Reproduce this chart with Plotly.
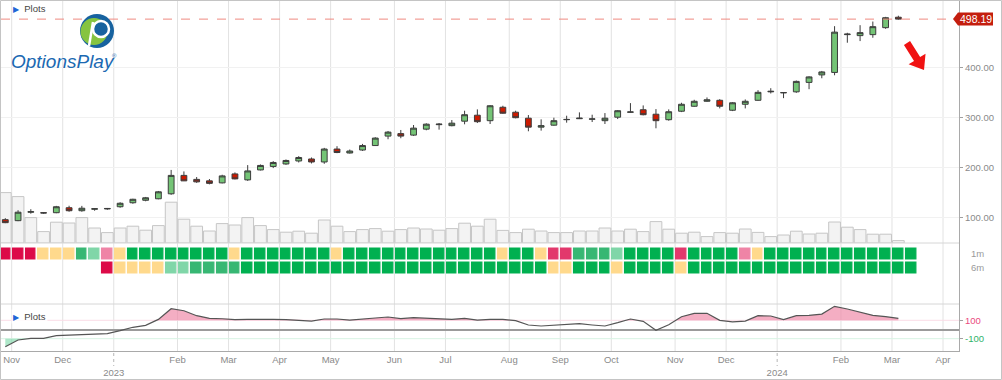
import math
import pandas as pd
import plotly.graph_objects as go

# ---------------- data ----------------
first_week = "2022-10-31"   # Monday of first weekly bar

opens = [95, 93, 110, 109, 109, 119, 113, 116, 116.5, 121, 129, 134, 137, 147, 184, 176, 173, 169, 187, 175,
         195, 202, 207, 213, 217, 211, 237, 229, 235, 244, 263, 268, 265, 277, 286, 284, 293, 305, 294, 321,
         311, 299, 281, 285, 296, 298, 297, 294, 301, 311, 316, 307, 296, 313, 323, 333, 335, 315, 327, 335,
         352, 350, 352, 371, 386, 391, 467, 465, 467, 481, 502]
highs = [98, 114, 116, 110, 122.7, 123, 122.7, 118, 118.5, 130, 137, 140.7, 152.7, 195, 192, 180.7, 176.7, 185.3, 190, 204.7,
         206, 212.7, 216, 222.7, 220, 239.3, 242.7, 236, 247.3, 260.7, 273.3, 275.3, 285.3, 288.7, 289.3, 295.3, 314, 316.7, 325.3, 324,
         314, 305.3, 296.7, 300, 304, 310.7, 306, 309.3, 315.3, 329.3, 324.7, 317.3, 316.7, 330, 336, 340.7, 337.3, 331.3, 336.7, 355.3,
         359.3, 351.5, 374.7, 383.3, 394, 484, 470.7, 486, 493.3, 502.7, 505]
lows = [88, 92, 107, 107, 108, 111, 111, 113, 115, 119, 127, 132, 136, 145, 172.7, 169, 166, 168, 176, 173,
        194, 198.7, 205.3, 210, 208, 207.3, 228.7, 228, 233.3, 243.3, 256.7, 258.7, 263.3, 274.7, 276, 282.7, 286.7, 289.3, 287.3, 308,
        298.7, 272.7, 274, 284, 290, 297.3, 291.3, 287.3, 297.3, 310, 304.7, 278.7, 294, 311.3, 322, 332, 318.7, 313.3, 318.7, 334,
        348.7, 339.3, 350, 357.3, 379.3, 385.3, 450.7, 454, 460.7, 478.7, 497]
closes = [89, 110, 111, 108.5, 121, 113, 118, 117, 117.5, 128, 136, 139, 151, 184, 173, 171, 168, 183, 177, 193,
          204, 210, 214, 220, 211, 237, 230, 233, 244, 259, 271, 263, 279, 287, 287, 289, 306, 292, 324, 309,
          300, 281, 284, 294, 296.5, 299, 297.5, 299, 314, 311.5, 306, 294, 312, 327, 333, 336, 323, 330, 333, 351,
          353, 350.5, 373, 382, 392, 472, 468, 471, 483, 501, 498.19]
volume_m = [252, 232, 127, 57, 104, 100, 127, 75, 52, 75, 84, 64, 87, 204, 119, 84, 60, 97, 90, 127,
            87, 67, 54, 59, 49, 115, 84, 57, 67, 72, 59, 67, 75, 70, 64, 72, 99, 84, 119, 63,
            52, 69, 60, 52, 52, 60, 60, 75, 60, 69, 57, 107, 69, 49, 54, 32, 52, 49, 70, 53,
            32, 40, 59, 45, 49, 105, 79, 67, 44, 44, 12]

# score codes: 0 red, 1 rose, 2 pink, 3 yellow, 4 light green, 5 mid green, 6 green
score_1m = [0, 0, 0, 3, 3, 3, 5, 4, 2, 3, 6, 6, 6, 6, 6, 6, 6, 6, 3, 6,
            6, 6, 6, 6, 6, 6, 3, 6, 6, 6, 6, 6, 6, 6, 6, 6, 6, 6, 6, 3,
            6, 6, 3, 1, 1, 5, 5, 5, 4, 6, 6, 6, 6, 1, 6, 6, 6, 6, 2, 3,
            6, 6, 6, 6, 6, 6, 6, 6, 6, 6, 6, 6]
score_6m = [None, None, None, None, None, None, None, None, 0, 3, 3, 3, 3, 4, 4, 5, 5, 5, 5, 6,
            6, 6, 6, 6, 6, 6, 6, 6, 6, 6, 6, 6, 6, 6, 6, 6, 6, 6, 6, 6,
            6, 6, 6, 3, 3, 6, 6, 6, 3, 6, 6, 6, 6, 3, 6, 6, 6, 6, 6, 6,
            6, 6, 6, 6, 6, 6, 6, 6, 6, 6, 6, 6]
score_colors = ["#dc0a48", "#e2386c", "#ef84a6", "#ffd98c", "#80d6a8", "#37b773", "#00b050"]
row_labels = ["1m", "6m"]

oscillator = [-187, -114, -96, -96, -67, -63, -60, -56, -45, -13, 24, 45, 110, 226, 204, 150, 121, 117, 107, 110,
              114, 110, 107, 103, 92, 114, 114, 103, 110, 125, 136, 118, 129, 121, 110, 110, 121, 103, 110, 110,
              96, 49, 38, 45, 52, 63, 49, 38, 74, 114, 89, -9, 52, 139, 176, 176, 100, 82, 92, 150,
              147, 107, 150, 154, 168, 252, 223, 187, 154, 139, 121]
osc_levels = [100, -100]

month_labels = ["Nov", "Dec", "<br>2023", "Feb", "Mar", "Apr", "May", "Jun", "Jul", "Aug", "Sep", "Oct",
                "Nov", "Dec", "<br>2024", "Feb", "Mar", "Apr"]
price_ticks = [100, 200, 300, 400]
last_price = closes[-1]

# ---------------- geometry helpers ----------------
W, H = 1002, 380
ML, MR, MT, MB = 1, 43, 1, 29
PW, PH = W - ML - MR, H - MT - MB


def px2x(px):
    return (px - ML) / PW


def px2y(py):
    return (MT + PH - py) / PH


n = len(closes)
idx = list(range(n))
heat_idx = list(range(len(score_1m)))

# weekly calendar -> month tick positions
weeks = pd.date_range(first_week, periods=80, freq="7D")
month_pos = []
seen = set()
for i, d in enumerate(weeks):
    key = (d.year, d.month)
    if key not in seen:
        seen.add(key)
        if i > 0:
            month_pos.append(i - 0.5)
month_pos = month_pos[:len(month_labels)]
year_pos = [p for p, lab in zip(month_pos, month_labels) if lab.startswith("<br>")]

# ---------------- figure ----------------
fig = go.Figure()

fig.add_trace(go.Bar(x=idx, y=volume_m, yaxis="y", width=0.92,
                     marker=dict(color="#f3f3f3", line=dict(color="#c6c6c6", width=1)),
                     hoverinfo="skip"))

fig.add_trace(go.Candlestick(x=idx, open=opens, high=highs, low=lows, close=closes, yaxis="y2",
                             whiskerwidth=0,
                             increasing=dict(fillcolor="#74c476", line=dict(color="#3c3c3c", width=1)),
                             decreasing=dict(fillcolor="#cc1a00", line=dict(color="#3c3c3c", width=1))))

nc = len(score_colors)
cscale = []
for k, c in enumerate(score_colors):
    cscale.append([k / nc, c])
    cscale.append([(k + 1) / nc, c])
fig.add_trace(go.Heatmap(x=heat_idx, y=[0, 1], z=[score_1m, score_6m], yaxis="y3",
                         zmin=-0.5, zmax=nc - 0.5, colorscale=cscale, showscale=False,
                         xgap=1.5, ygap=2, hoverinfo="skip"))


def band(xs, vs, thr, above):
    bx, by = [], []
    for i, v in enumerate(vs):
        if i > 0:
            v0 = vs[i - 1]
            if (v0 - thr) * (v - thr) < 0:
                t = (thr - v0) / (v - v0)
                bx.append(xs[i - 1] + t * (xs[i] - xs[i - 1]))
                by.append(thr)
        bx.append(xs[i])
        by.append(max(v, thr) if above else min(v, thr))
    return bx, by


for thr, above, col in [(osc_levels[0], True, "rgba(240,140,170,0.7)"),
                        (osc_levels[1], False, "rgba(120,215,165,0.6)")]:
    bx, by = band(idx, oscillator, thr, above)
    fig.add_trace(go.Scatter(x=bx, y=[thr] * len(bx), yaxis="y4", mode="lines",
                             line=dict(width=0, color="rgba(0,0,0,0)"), hoverinfo="skip"))
    fig.add_trace(go.Scatter(x=bx, y=by, yaxis="y4", mode="lines", fill="tonexty",
                             fillcolor=col, line=dict(width=0, color="rgba(0,0,0,0)"), hoverinfo="skip"))

fig.add_trace(go.Scatter(x=idx, y=oscillator, yaxis="y4", mode="lines",
                         line=dict(color="#555555", width=1.2), hoverinfo="skip"))

# ---------------- axes ----------------
dom_price = [px2y(243), 1]
dom_heat = [px2y(304), px2y(243)]
dom_osc = [0, px2y(304)]
axis_font = dict(family="Liberation Sans, Arial, sans-serif", size=9.5, color="#8a8a8a")
border = "#a9a9a9"

x0 = -4.3 / 12.758
fig.update_layout(
    width=W, height=H, margin=dict(l=ML, r=MR, t=MT, b=MB),
    paper_bgcolor="white", plot_bgcolor="white", showlegend=False,
    boxgap=0.35,
    font=dict(family="Liberation Sans, Arial, sans-serif"),
    xaxis=dict(domain=[0, 1], anchor="y4", range=[x0, x0 + PW / 12.758],
               tickvals=month_pos, ticktext=month_labels, ticks="", showgrid=False,
               zeroline=False, showline=True, linecolor=border, tickfont=axis_font,
               rangeslider=dict(visible=False), fixedrange=True),
    yaxis=dict(domain=dom_price, range=[0, 5 * 242], visible=False, fixedrange=True),
    yaxis2=dict(overlaying="y", anchor="x", side="right", range=[48.1, 534.6],
                tickvals=price_ticks, ticktext=[f"{v:.2f}" for v in price_ticks],
                ticks="outside", ticklen=3, tickcolor="#a0a0a0", showgrid=True, gridcolor="#f1f1f1",
                zeroline=False, showline=True, linecolor=border, tickfont=axis_font, fixedrange=True),
    yaxis3=dict(domain=dom_heat, anchor="x", side="right", range=[3.607, -0.75],
                tickvals=[0, 1], ticktext=row_labels, ticks="outside", ticklen=9,
                tickcolor="rgba(0,0,0,0)", showgrid=False, zeroline=False, showline=True,
                linecolor=border, tickfont=dict(family="Liberation Sans, Arial, sans-serif",
                                                size=9.5, color="#9a9a9a"), fixedrange=True),
    yaxis4=dict(domain=dom_osc, anchor="x", side="right", range=[-233.7, 277.2],
                tickvals=osc_levels, ticktext=["", ""], ticks="outside", ticklen=3,
                tickcolor="#a0a0a0", showgrid=False, zeroline=True, zerolinecolor="#9b9b9b",
                zerolinewidth=2, showline=True, linecolor=border, fixedrange=True),
)

shapes = []
# month gridlines
for p in month_pos:
    shapes.append(dict(type="line", xref="x", yref="paper", x0=p, x1=p, y0=0, y1=1,
                       line=dict(color="#e2e2e2", width=1), layer="below"))
# year dotted marks
for p in year_pos:
    shapes.append(dict(type="line", xref="x", yref="paper", x0=p, x1=p, y0=px2y(353), y1=px2y(366),
                       line=dict(color="#b5b5b5", width=1, dash="dot")))
# panel separators
for py, c in [(243, "#d6d6d6"), (304, "#d6d6d6")]:
    shapes.append(dict(type="line", xref="paper", yref="paper", x0=0, x1=1, y0=px2y(py), y1=px2y(py),
                       line=dict(color=c, width=1)))
# oscillator level lines
shapes.append(dict(type="line", xref="paper", yref="y4", x0=0, x1=1, y0=osc_levels[0], y1=osc_levels[0],
                   line=dict(color="#fbdde7", width=1), layer="below"))
shapes.append(dict(type="line", xref="paper", yref="y4", x0=0, x1=1, y0=osc_levels[1], y1=osc_levels[1],
                   line=dict(color="#d7f3e3", width=1), layer="below"))
# last price dashed line
shapes.append(dict(type="line", xref="paper", yref="y2", x0=0, x1=1, y0=last_price, y1=last_price,
                   line=dict(color="#ef8a80", width=1, dash="dash")))
# last price tag
shapes.append(dict(type="path", xref="paper", yref="y2", xsizemode="pixel", ysizemode="pixel",
                   xanchor=1, yanchor=last_price,
                   path="M -6 0 L -1 6.5 L 34 6.5 L 34 -6.5 L -1 -6.5 Z",
                   fillcolor="#c41e0e", line=dict(width=0)))

# red bearish arrow
tail, tip = (907.0, 43.0), (924.0, 70.0)
dx, dy = tip[0] - tail[0], tip[1] - tail[1]
L = math.hypot(dx, dy)
ux, uy = dx / L, dy / L
vx, vy = -uy, ux
sw, hw, hl = 3.6, 10.0, 13.0
nx, ny = tip[0] - hl * ux, tip[1] - hl * uy
pts = [(tail[0] + sw * vx, tail[1] + sw * vy), (nx + sw * vx, ny + sw * vy), (nx + hw * vx, ny + hw * vy),
       tip, (nx - hw * vx, ny - hw * vy), (nx - sw * vx, ny - sw * vy), (tail[0] - sw * vx, tail[1] - sw * vy)]
path = "M " + " L ".join(f"{px2x(a):.5f} {px2y(b):.5f}" for a, b in pts) + " Z"
shapes.append(dict(type="path", xref="paper", yref="paper", path=path, fillcolor="#f01212",
                   line=dict(width=0)))

# logo circle
cx, cy = 97.0, 31.0


def circ(x, y, r, fill, lc=None, lw=0):
    return dict(type="circle", xref="paper", yref="paper", x0=px2x(x - r), x1=px2x(x + r),
                y0=px2y(y + r), y1=px2y(y - r), fillcolor=fill,
                line=dict(color=lc or fill, width=lw))


shapes.append(circ(cx, cy, 17, "#17629f"))
shapes.append(circ(cx - 3, cy + 0.5, 13.5, "#86c440"))
shapes.append(circ(cx + 4, cy - 2, 8, "#17629f", "white", 2.5))
shapes.append(dict(type="line", xref="paper", yref="paper", x0=px2x(cx - 4), y0=px2y(cy - 9),
                   x1=px2x(cx - 8), y1=px2y(cy + 15), line=dict(color="white", width=2.5)))
# outer frame
shapes.append(dict(type="rect", xref="paper", yref="paper", x0=px2x(0.5), x1=px2x(W - 0.5),
                   y0=px2y(H - 0.5), y1=px2y(0.5), line=dict(color="#c4c4c4", width=1),
                   fillcolor="rgba(0,0,0,0)"))

fig.update_layout(shapes=shapes)

tri = '<span style="color:#1f66d6;font-size:8px">▶</span>'
ann = [
    dict(xref="paper", yref="paper", x=px2x(11), y=px2y(8), xanchor="left", yanchor="middle",
         text=tri + "  Plots", showarrow=False,
         font=dict(family="Liberation Sans, Arial, sans-serif", size=9.5, color="#444444")),
    dict(xref="paper", yref="paper", x=px2x(11), y=px2y(316), xanchor="left", yanchor="middle",
         text=tri + "  Plots", showarrow=False, bgcolor="rgba(255,255,255,0.85)",
         font=dict(family="Liberation Sans, Arial, sans-serif", size=9.5, color="#444444")),
    dict(xref="paper", yref="paper", x=px2x(9), y=px2y(62), xanchor="left", yanchor="middle",
         text="OptionsPlay", showarrow=False,
         font=dict(family="Liberation Sans, Arial, sans-serif", size=19, color="#1b69b2",
                   style="italic")),
    dict(xref="paper", yref="paper", x=px2x(110), y=px2y(56), xanchor="left", yanchor="middle",
         text="®", showarrow=False,
         font=dict(family="Liberation Sans, Arial, sans-serif", size=6, color="#1b69b2")),
    dict(xref="paper", yref="y2", x=1, y=last_price, xanchor="center", yanchor="middle",
         xshift=17, text="498.19", showarrow=False,
         font=dict(family="Liberation Sans, Arial, sans-serif", size=10.5, color="white")),
    dict(xref="paper", yref="y4", x=1, y=osc_levels[0], xanchor="left", yanchor="middle",
         xshift=4, text=str(osc_levels[0]), showarrow=False,
         font=dict(family="Liberation Sans, Arial, sans-serif", size=9.5, color="#ea4a7e")),
    dict(xref="paper", yref="y4", x=1, y=osc_levels[1], xanchor="left", yanchor="middle",
         xshift=4, text=str(osc_levels[1]), showarrow=False,
         font=dict(family="Liberation Sans, Arial, sans-serif", size=9.5, color="#2fb36a")),
]
fig.update_layout(annotations=ann)

fig.write_html("out.html", config={"displayModeBar": False},
               post_script="document.body.style.margin='0';document.body.style.overflow='hidden';")
